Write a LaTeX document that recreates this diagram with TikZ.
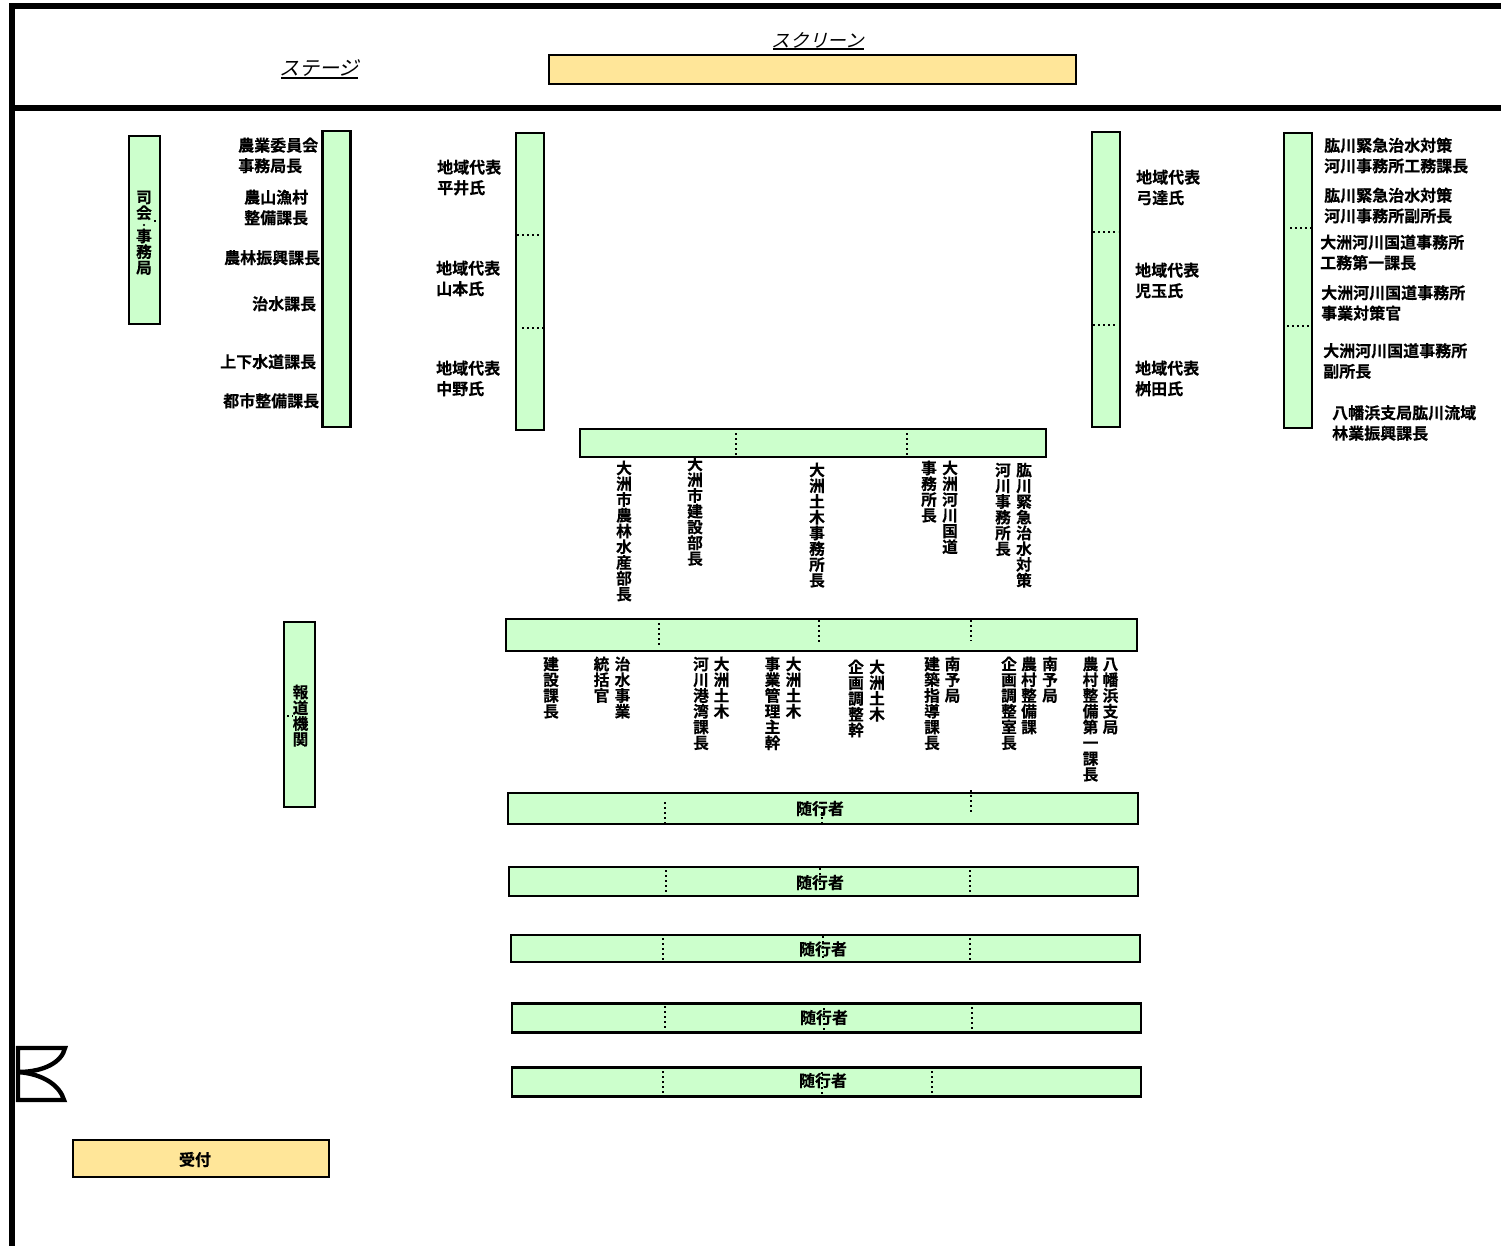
\documentclass[tikz,border=0pt]{standalone}
\usepackage{fontspec}
\setmainfont{Noto Sans CJK JP}[BoldFont={Noto Sans CJK JP Bold}]
\newfontfamily\jpb{Noto Sans CJK JP Bold}[FakeBold=0.35]
\newfontfamily\jpi{Noto Sans CJK JP}[FakeSlant=0.25]
\definecolor{barg}{HTML}{CCFFCC}
\definecolor{bary}{HTML}{FFE699}
\makeatletter
\def\vdotchar{・}
\newcommand\vtext[1]{\vbox{\offinterlineskip\@tfor\vc:=#1\do{\ifx\vc\vdotchar
  \hbox to 16pt{\vrule height 6pt depth 1.5pt width 0pt\hss\raisebox{-0.5pt}[0pt][0pt]{\fontsize{8.5}{8.5}\selectfont\vc}\hss}%
  \else
  \hbox to 16pt{\vrule height 12.75pt depth 3pt width 0pt\hss\smash{\vc}\hss}%
  \fi}}}
\makeatother
\tikzset{
  x=1pt,y=-1pt,
  frameline/.style={line width=6pt,line cap=butt},
  bar/.style={draw=black,line width=2.8pt,fill=barg,line join=miter},
  ybar/.style={draw=black,line width=2.8pt,fill=bary},
  dots/.style={line width=2.4pt,dash pattern=on 2.2pt off 2.8pt},
  lab/.style={font=\jpb\fontsize{16}{20.5}\selectfont,inner sep=0pt,align=left,anchor=north west},
  vlab/.style={font=\jpb\fontsize{15.7}{15.7}\selectfont,inner sep=0pt,anchor=north},
  attlab/.style={font=\jpb\fontsize{16}{18}\selectfont,inner sep=0pt},
  itlab/.style={font=\jpi\fontsize{20}{24}\selectfont,inner sep=0pt},
  itlabs/.style={font=\jpi\fontsize{18.6}{24}\selectfont,inner sep=0pt},
  ulab/.style={line width=2pt},
  door/.style={line width=4.4pt,line join=miter}
}
\begin{document}
\begin{tikzpicture}
\useasboundingbox (0,0) rectangle (1501,1246);
% frame
\coordinate (ftl) at (12,6);
\coordinate (ftr) at (1501,6);
\coordinate (fbl) at (12,1246);
\coordinate (fml) at (12,108);
\coordinate (fmr) at (1501,108);
\draw[frameline] (fbl) -- (ftl) -- (ftr);
\draw[frameline] (fml) -- (fmr);
% stage
\node[itlab,anchor=base] (stage) at (319,76) {ステージ};
\coordinate (su1) at (281,78); \coordinate (su2) at (358,78);
\draw[ulab] (su1) -- (su2);
\node[itlabs,anchor=base] (screen) at (818,47.5) {スクリーン};
\coordinate (cu1) at (773,49.5); \coordinate (cu2) at (864,49.5);
\draw[ulab] (cu1) -- (cu2);
\node[ybar,minimum width=527pt,minimum height=29pt,inner sep=0pt] (scr) at (812.5,69.5) {};
% vertical bars
\node[bar,minimum width=31pt,minimum height=188pt,inner sep=0pt] (shikai) at (144.5,230) {};
\node[vlab] at (144,190) {\vtext{司会・事務局}};
\node[bar,minimum width=28pt,minimum height=296pt,inner sep=0pt] (v1) at (336.5,279) {};
\node[bar,minimum width=28pt,minimum height=297pt,inner sep=0pt] (v2) at (530,281.5) {};
\node[bar,minimum width=28pt,minimum height=295pt,inner sep=0pt] (v3) at (1106,279.5) {};
\node[bar,minimum width=28pt,minimum height=295pt,inner sep=0pt] (v4) at (1298,280.5) {};
\node[bar,minimum width=31pt,minimum height=185pt,inner sep=0pt] (press) at (299.5,714.5) {};
\node[vlab] at (300.5,685) {\vtext{報道機関}};
\coordinate (q1) at (287,716); \coordinate (q2) at (293,716); \draw[dots] (q1) -- (q2);
% dotted dividers in vertical bars
\coordinate (a1) at (517,235); \coordinate (a2) at (540,235); \draw[dots] (a1) -- (a2);
\coordinate (a3) at (522,328); \coordinate (a4) at (546,328); \draw[dots] (a3) -- (a4);
\coordinate (b1) at (1093,232); \coordinate (b2) at (1118,232); \draw[dots] (b1) -- (b2);
\coordinate (b3) at (1093,325); \coordinate (b4) at (1115,325); \draw[dots] (b3) -- (b4);
\coordinate (c1) at (1290,228); \coordinate (c2) at (1313,228); \draw[dots] (c1) -- (c2);
\coordinate (c3) at (1287,326); \coordinate (c4) at (1311,326); \draw[dots] (c3) -- (c4);
\coordinate (d1) at (154,221); \coordinate (d2) at (157,221); \draw[dots] (d1) -- (d2);
% labels left
\node[lab] at (238,137.5) {農業委員会\\事務局長};
\node[lab] at (244,189.5) {農山漁村\\整備課長};
\node[lab] at (224,250) {農林振興課長};
\node[lab] at (252,296) {治水課長};
\node[lab] at (220,354) {上下水道課長};
\node[lab] at (223,393) {都市整備課長};
\node[lab] at (437,159.5) {地域代表\\平井氏};
\node[lab] at (436,260.5) {地域代表\\山本氏};
\node[lab] at (436,360.5) {地域代表\\中野氏};
\node[lab] at (1136,169.5) {地域代表\\弓達氏};
\node[lab] at (1135,262.5) {地域代表\\児玉氏};
\node[lab] at (1135,360.5) {地域代表\\桝田氏};
\node[lab] at (1324,137.5) {肱川緊急治水対策\\河川事務所工務課長};
\node[lab] at (1324,187.5) {肱川緊急治水対策\\河川事務所副所長};
\node[lab] at (1320,234.5) {大洲河川国道事務所\\工務第一課長};
\node[lab] at (1321,285) {大洲河川国道事務所\\事業対策官};
\node[lab] at (1323,343) {大洲河川国道事務所\\副所長};
\node[lab] at (1332,405) {八幡浜支局肱川流域\\林業振興課長};
% first row bar
\node[bar,minimum width=466pt,minimum height=28pt,inner sep=0pt] (h1) at (813,443) {};
\coordinate (e1) at (736,433); \coordinate (e2) at (736,456); \draw[dots] (e1) -- (e2);
\coordinate (e3) at (907,433); \coordinate (e4) at (907,455); \draw[dots] (e3) -- (e4);
\node[vlab] at (624,461) {\vtext{大洲市農林水産部長}};
\node[vlab] at (695,457) {\vtext{大洲市建設部長}};
\node[vlab] at (817,463) {\vtext{大洲土木事務所長}};
\node[vlab] at (950,461) {\vtext{大洲河川国道}};
\node[vlab] at (929,461) {\vtext{事務所長}};
\node[vlab] at (1024,463) {\vtext{肱川緊急治水対策}};
\node[vlab] at (1003,463) {\vtext{河川事務所長}};
% second row bar
\node[bar,minimum width=631pt,minimum height=32pt,inner sep=0pt] (h2) at (821.5,635) {};
\coordinate (f1) at (659,623); \coordinate (f2) at (659,646); \draw[dots] (f1) -- (f2);
\coordinate (f3) at (819,620); \coordinate (f4) at (819,642); \draw[dots] (f3) -- (f4);
\coordinate (f5) at (971,620); \coordinate (f6) at (971,641); \draw[dots] (f5) -- (f6);
\node[vlab] at (622.5,657) {\vtext{治水事業}};
\node[vlab] at (601.5,657) {\vtext{統括官}};
\node[vlab] at (551,657) {\vtext{建設課長}};
\node[vlab] at (721.5,657) {\vtext{大洲土木}};
\node[vlab] at (701,657) {\vtext{河川港湾課長}};
\node[vlab] at (793.5,657) {\vtext{大洲土木}};
\node[vlab] at (772.5,657) {\vtext{事業管理主幹}};
\node[vlab] at (877,660) {\vtext{大洲土木}};
\node[vlab] at (856,660) {\vtext{企画調整幹}};
\node[vlab] at (952.5,657) {\vtext{南予局}};
\node[vlab] at (932,657) {\vtext{建築指導課長}};
\node[vlab] at (1050,657) {\vtext{南予局}};
\node[vlab] at (1029,657) {\vtext{農村整備課}};
\node[vlab] at (1009,657) {\vtext{企画調整室長}};
\node[vlab] at (1110.5,657) {\vtext{八幡浜支局}};
\node[vlab] at (1090.5,657) {\vtext{農村整備第一課長}};
% attendants
\node[bar,minimum width=630pt,minimum height=31pt,inner sep=0pt] (g1) at (823,808.5) {};
\node[bar,minimum width=629pt,minimum height=29pt,inner sep=0pt] (g2) at (823.5,881.5) {};
\node[bar,minimum width=629pt,minimum height=27pt,inner sep=0pt] (g3) at (825.5,948.5) {};
\node[bar,minimum width=629pt,minimum height=29pt,inner sep=0pt] (g4) at (826.5,1018) {};
\node[bar,minimum width=629pt,minimum height=29pt,inner sep=0pt] (g5) at (826.5,1082) {};
\coordinate (k1) at (665,802); \coordinate (k2) at (665,824); \draw[dots] (k1) -- (k2);
\coordinate (k3) at (971,790); \coordinate (k4) at (971,814); \draw[dots] (k3) -- (k4);
\coordinate (k5) at (822,802); \coordinate (k6) at (822,825); \draw[dots] (k5) -- (k6);
\coordinate (m1) at (666,870); \coordinate (m2) at (666,893); \draw[dots] (m1) -- (m2);
\coordinate (m3) at (970,870); \coordinate (m4) at (970,893); \draw[dots] (m3) -- (m4);
\coordinate (m5) at (820,868); \coordinate (m6) at (820,891); \draw[dots] (m5) -- (m6);
\coordinate (n1) at (663,938); \coordinate (n2) at (663,960); \draw[dots] (n1) -- (n2);
\coordinate (n3) at (970,938); \coordinate (n4) at (970,960); \draw[dots] (n3) -- (n4);
\coordinate (n5) at (823,936); \coordinate (n6) at (823,958); \draw[dots] (n5) -- (n6);
\coordinate (o1) at (665,1006); \coordinate (o2) at (665,1028); \draw[dots] (o1) -- (o2);
\coordinate (o3) at (972,1007); \coordinate (o4) at (972,1031); \draw[dots] (o3) -- (o4);
\coordinate (o5) at (824,1008); \coordinate (o6) at (824,1030); \draw[dots] (o5) -- (o6);
\coordinate (p1) at (663,1071); \coordinate (p2) at (663,1093); \draw[dots] (p1) -- (p2);
\coordinate (p3) at (932,1071); \coordinate (p4) at (932,1095); \draw[dots] (p3) -- (p4);
\coordinate (p5) at (822,1072); \coordinate (p6) at (822,1096); \draw[dots] (p5) -- (p6);
\node[attlab] at (820,808.5) {随行者};
\node[attlab] at (820,882.5) {随行者};
\node[attlab] at (823,949) {随行者};
\node[attlab] at (824,1017.5) {随行者};
\node[attlab] at (823,1080.5) {随行者};
% door
\coordinate (dtl) at (18,1048); \coordinate (dtr) at (65,1048);
\coordinate (dm) at (18,1072); \coordinate (dbl) at (18,1100); \coordinate (dbr) at (64,1100);
\draw[door] (dm) -- (dtl) -- (dtr) .. controls (62,1062) and (44,1072) .. (dm);
\draw[door] (dm) -- (dbl) -- (dbr) .. controls (60,1086) and (44,1074) .. (dm);
% reception
\node[ybar,minimum width=256pt,minimum height=37pt,inner sep=0pt] (recv) at (201,1158.5) {};
\node[attlab] at (195,1159.5) {受付};
\end{tikzpicture}
\end{document}
